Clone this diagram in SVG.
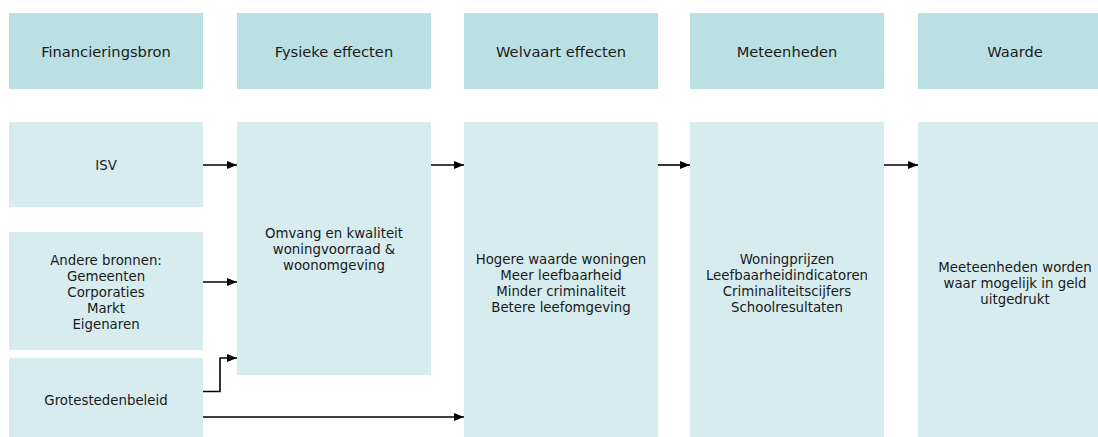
<svg xmlns="http://www.w3.org/2000/svg" width="1098" height="437" viewBox="0 0 1098 437">
<style>
.h{fill:#BBE0E3}
.b{fill:#D6ECEF}
text{font-family:"DejaVu Sans",Verdana,sans-serif;font-size:13.33px;fill:#1a1a1a;text-anchor:middle}
.t{font-size:14.67px}
.c{stroke:#000;stroke-width:1.6;fill:none;marker-end:url(#a)}
</style>
<defs>
<marker id="a" markerWidth="10" markerHeight="8" refX="10" refY="4" orient="auto" markerUnits="userSpaceOnUse">
<path d="M0,0 L10,4 L0,8 Z" fill="#000"/>
</marker>
</defs>
<rect width="1098" height="437" fill="#fff"/>
<g id="h1"><rect class="h" x="9" y="13" width="194" height="76"/><text class="t" x="106" y="57">Financieringsbron</text></g>
<g id="h2"><rect class="h" x="237" y="13" width="194" height="76"/><text class="t" x="334" y="57">Fysieke effecten</text></g>
<g id="h3"><rect class="h" x="464" y="13" width="194" height="76"/><text class="t" x="561" y="57">Welvaart effecten</text></g>
<g id="h4"><rect class="h" x="690" y="13" width="194" height="76"/><text class="t" x="787" y="57">Meteenheden</text></g>
<g id="h5"><rect class="h" x="918" y="13" width="194" height="76"/><text class="t" x="1015" y="57">Waarde</text></g>
<g id="isv"><rect class="b" x="9" y="122" width="194" height="85"/><text x="106" y="169.5">ISV</text></g>
<g id="andere"><rect class="b" x="9" y="232" width="194" height="118"/>
<text x="106" y="264.5">Andere bronnen:</text><text x="106" y="280.5">Gemeenten</text><text x="106" y="296.5">Corporaties</text><text x="106" y="312.5">Markt</text><text x="106" y="328.5">Eigenaren</text></g>
<g id="gsb"><rect class="b" x="9" y="358" width="194" height="79"/><text x="106" y="404.5">Grotestedenbeleid</text></g>
<g id="fysiek"><rect class="b" x="237" y="122" width="194" height="253"/>
<text x="334" y="237.5">Omvang en kwaliteit</text><text x="334" y="253.5">woningvoorraad &amp;</text><text x="334" y="269.5">woonomgeving</text></g>
<g id="welvaart"><rect class="b" x="464" y="122" width="194" height="315"/>
<text x="561" y="263.5">Hogere waarde woningen</text><text x="561" y="279.5">Meer leefbaarheid</text><text x="561" y="295.5">Minder criminaliteit</text><text x="561" y="311.5">Betere leefomgeving</text></g>
<g id="meet"><rect class="b" x="690" y="122" width="194" height="315"/>
<text x="787" y="263.5">Woningprijzen</text><text x="787" y="279.5">Leefbaarheidindicatoren</text><text x="787" y="295.5">Criminaliteitscijfers</text><text x="787" y="311.5">Schoolresultaten</text></g>
<g id="waarde"><rect class="b" x="918" y="122" width="194" height="315"/>
<text x="1015" y="271.5">Meeteenheden worden</text><text x="1015" y="287.5">waar mogelijk in geld</text><text x="1015" y="303.5">uitgedrukt</text></g>
<g id="connectors">
<path class="c" d="M203,165 H237"/>
<path class="c" d="M203,282 H237"/>
<path class="c" d="M203,391.5 H220 V358 H237"/>
<path class="c" d="M203,417 H464"/>
<path class="c" d="M431,165 H464"/>
<path class="c" d="M658,165 H690"/>
<path class="c" d="M884,165 H918"/>
</g>
</svg>
